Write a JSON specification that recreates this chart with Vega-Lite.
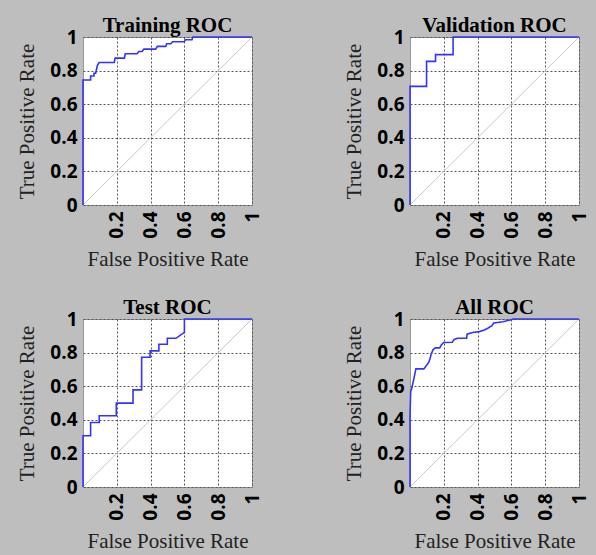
{
  "$schema": "https://vega.github.io/schema/vega-lite/v6.json",
  "background": "#bebebe",
  "padding": {"left": 16, "top": 14, "right": 14, "bottom": 14},
  "datasets": {
    "diag": [{"fpr": 0, "tpr": 0}, {"fpr": 1, "tpr": 1}],
    "roc": [
      {"set": "Training", "fpr": 0, "tpr": 0},
      {"set": "Training", "fpr": 0, "tpr": 0.744},
      {"set": "Training", "fpr": 0.045, "tpr": 0.744},
      {"set": "Training", "fpr": 0.045, "tpr": 0.768},
      {"set": "Training", "fpr": 0.065, "tpr": 0.768},
      {"set": "Training", "fpr": 0.065, "tpr": 0.784},
      {"set": "Training", "fpr": 0.075, "tpr": 0.784},
      {"set": "Training", "fpr": 0.085, "tpr": 0.83},
      {"set": "Training", "fpr": 0.095, "tpr": 0.848},
      {"set": "Training", "fpr": 0.185, "tpr": 0.848},
      {"set": "Training", "fpr": 0.19, "tpr": 0.874},
      {"set": "Training", "fpr": 0.245, "tpr": 0.874},
      {"set": "Training", "fpr": 0.25, "tpr": 0.9},
      {"set": "Training", "fpr": 0.32, "tpr": 0.9},
      {"set": "Training", "fpr": 0.33, "tpr": 0.914},
      {"set": "Training", "fpr": 0.35, "tpr": 0.914},
      {"set": "Training", "fpr": 0.36, "tpr": 0.928},
      {"set": "Training", "fpr": 0.43, "tpr": 0.928},
      {"set": "Training", "fpr": 0.44, "tpr": 0.944},
      {"set": "Training", "fpr": 0.49, "tpr": 0.944},
      {"set": "Training", "fpr": 0.495, "tpr": 0.96},
      {"set": "Training", "fpr": 0.52, "tpr": 0.96},
      {"set": "Training", "fpr": 0.53, "tpr": 0.972},
      {"set": "Training", "fpr": 0.6, "tpr": 0.972},
      {"set": "Training", "fpr": 0.605, "tpr": 0.984},
      {"set": "Training", "fpr": 0.645, "tpr": 0.984},
      {"set": "Training", "fpr": 0.65, "tpr": 1},
      {"set": "Training", "fpr": 1, "tpr": 1},
      {"set": "Validation", "fpr": 0, "tpr": 0},
      {"set": "Validation", "fpr": 0, "tpr": 0.706},
      {"set": "Validation", "fpr": 0.098, "tpr": 0.706},
      {"set": "Validation", "fpr": 0.098, "tpr": 0.855},
      {"set": "Validation", "fpr": 0.151, "tpr": 0.855},
      {"set": "Validation", "fpr": 0.151, "tpr": 0.895},
      {"set": "Validation", "fpr": 0.255, "tpr": 0.895},
      {"set": "Validation", "fpr": 0.255, "tpr": 1},
      {"set": "Validation", "fpr": 1, "tpr": 1},
      {"set": "Test", "fpr": 0, "tpr": 0},
      {"set": "Test", "fpr": 0, "tpr": 0.305},
      {"set": "Test", "fpr": 0.045, "tpr": 0.305},
      {"set": "Test", "fpr": 0.045, "tpr": 0.384},
      {"set": "Test", "fpr": 0.096, "tpr": 0.384},
      {"set": "Test", "fpr": 0.096, "tpr": 0.424},
      {"set": "Test", "fpr": 0.197, "tpr": 0.424},
      {"set": "Test", "fpr": 0.197, "tpr": 0.499},
      {"set": "Test", "fpr": 0.296, "tpr": 0.499},
      {"set": "Test", "fpr": 0.296, "tpr": 0.578},
      {"set": "Test", "fpr": 0.347, "tpr": 0.578},
      {"set": "Test", "fpr": 0.347, "tpr": 0.772},
      {"set": "Test", "fpr": 0.397, "tpr": 0.772},
      {"set": "Test", "fpr": 0.397, "tpr": 0.81},
      {"set": "Test", "fpr": 0.449, "tpr": 0.81},
      {"set": "Test", "fpr": 0.449, "tpr": 0.85},
      {"set": "Test", "fpr": 0.499, "tpr": 0.85},
      {"set": "Test", "fpr": 0.499, "tpr": 0.885},
      {"set": "Test", "fpr": 0.55, "tpr": 0.885},
      {"set": "Test", "fpr": 0.6, "tpr": 0.92},
      {"set": "Test", "fpr": 0.6, "tpr": 1},
      {"set": "Test", "fpr": 1, "tpr": 1},
      {"set": "All", "fpr": 0, "tpr": 0},
      {"set": "All", "fpr": 0, "tpr": 0.42},
      {"set": "All", "fpr": 0.004, "tpr": 0.57},
      {"set": "All", "fpr": 0.01, "tpr": 0.585},
      {"set": "All", "fpr": 0.02, "tpr": 0.63},
      {"set": "All", "fpr": 0.035, "tpr": 0.703},
      {"set": "All", "fpr": 0.082, "tpr": 0.703},
      {"set": "All", "fpr": 0.095, "tpr": 0.72},
      {"set": "All", "fpr": 0.11, "tpr": 0.74},
      {"set": "All", "fpr": 0.118, "tpr": 0.762},
      {"set": "All", "fpr": 0.125, "tpr": 0.79},
      {"set": "All", "fpr": 0.137, "tpr": 0.818},
      {"set": "All", "fpr": 0.15, "tpr": 0.828},
      {"set": "All", "fpr": 0.176, "tpr": 0.828},
      {"set": "All", "fpr": 0.185, "tpr": 0.845},
      {"set": "All", "fpr": 0.2, "tpr": 0.86},
      {"set": "All", "fpr": 0.25, "tpr": 0.862},
      {"set": "All", "fpr": 0.26, "tpr": 0.877},
      {"set": "All", "fpr": 0.28, "tpr": 0.885},
      {"set": "All", "fpr": 0.335, "tpr": 0.885},
      {"set": "All", "fpr": 0.338, "tpr": 0.91},
      {"set": "All", "fpr": 0.37, "tpr": 0.92},
      {"set": "All", "fpr": 0.41, "tpr": 0.925},
      {"set": "All", "fpr": 0.44, "tpr": 0.935},
      {"set": "All", "fpr": 0.46, "tpr": 0.945},
      {"set": "All", "fpr": 0.485, "tpr": 0.96},
      {"set": "All", "fpr": 0.495, "tpr": 0.976},
      {"set": "All", "fpr": 0.55, "tpr": 0.984},
      {"set": "All", "fpr": 0.6, "tpr": 0.996},
      {"set": "All", "fpr": 0.61, "tpr": 1},
      {"set": "All", "fpr": 1, "tpr": 1}
    ]
  },
  "bounds": "flush",
  "columns": 2,
  "spacing": {"row": 114, "column": 158},
  "concat": [
    {
      "title": "Training ROC",
      "width": 169, "height": 168,
      "encoding": {
        "x": {"field": "fpr", "type": "quantitative", "scale": {"domain": [0, 1], "nice": false}, "title": "False Positive Rate", "axis": {"values": [0.2, 0.4, 0.6, 0.8, 1], "labelOverlap": false}},
        "y": {"field": "tpr", "type": "quantitative", "scale": {"domain": [0, 1], "nice": false}, "title": "True Positive Rate", "axis": {"values": [0, 0.2, 0.4, 0.6, 0.8, 1], "labelOverlap": false}}
      },
      "layer": [
        {"data": {"name": "diag"}, "mark": {"type": "line", "color": "#c8c8c8", "strokeWidth": 1}},
        {"data": {"name": "roc"}, "transform": [{"filter": "datum.set === 'Training'"}],
         "mark": {"type": "line", "color": "#3333ff", "strokeWidth": 1.6},
         "encoding": {"order": {"value": null}}}
      ]
    },
    {
      "title": "Validation ROC",
      "width": 169, "height": 168,
      "encoding": {
        "x": {"field": "fpr", "type": "quantitative", "scale": {"domain": [0, 1], "nice": false}, "title": "False Positive Rate", "axis": {"values": [0.2, 0.4, 0.6, 0.8, 1], "labelOverlap": false}},
        "y": {"field": "tpr", "type": "quantitative", "scale": {"domain": [0, 1], "nice": false}, "title": "True Positive Rate", "axis": {"values": [0, 0.2, 0.4, 0.6, 0.8, 1], "labelOverlap": false}}
      },
      "layer": [
        {"data": {"name": "diag"}, "mark": {"type": "line", "color": "#c8c8c8", "strokeWidth": 1}},
        {"data": {"name": "roc"}, "transform": [{"filter": "datum.set === 'Validation'"}],
         "mark": {"type": "line", "color": "#3333ff", "strokeWidth": 1.6},
         "encoding": {"order": {"value": null}}}
      ]
    },
    {
      "title": "Test ROC",
      "width": 169, "height": 168,
      "encoding": {
        "x": {"field": "fpr", "type": "quantitative", "scale": {"domain": [0, 1], "nice": false}, "title": "False Positive Rate", "axis": {"values": [0.2, 0.4, 0.6, 0.8, 1], "labelOverlap": false}},
        "y": {"field": "tpr", "type": "quantitative", "scale": {"domain": [0, 1], "nice": false}, "title": "True Positive Rate", "axis": {"values": [0, 0.2, 0.4, 0.6, 0.8, 1], "labelOverlap": false}}
      },
      "layer": [
        {"data": {"name": "diag"}, "mark": {"type": "line", "color": "#c8c8c8", "strokeWidth": 1}},
        {"data": {"name": "roc"}, "transform": [{"filter": "datum.set === 'Test'"}],
         "mark": {"type": "line", "color": "#3333ff", "strokeWidth": 1.6},
         "encoding": {"order": {"value": null}}}
      ]
    },
    {
      "title": "All ROC",
      "width": 169, "height": 168,
      "encoding": {
        "x": {"field": "fpr", "type": "quantitative", "scale": {"domain": [0, 1], "nice": false}, "title": "False Positive Rate", "axis": {"values": [0.2, 0.4, 0.6, 0.8, 1], "labelOverlap": false}},
        "y": {"field": "tpr", "type": "quantitative", "scale": {"domain": [0, 1], "nice": false}, "title": "True Positive Rate", "axis": {"values": [0, 0.2, 0.4, 0.6, 0.8, 1], "labelOverlap": false}}
      },
      "layer": [
        {"data": {"name": "diag"}, "mark": {"type": "line", "color": "#c8c8c8", "strokeWidth": 1}},
        {"data": {"name": "roc"}, "transform": [{"filter": "datum.set === 'All'"}],
         "mark": {"type": "line", "color": "#3333ff", "strokeWidth": 1.6},
         "encoding": {"order": {"value": null}}}
      ]
    }
  ],
  "config": {
    "view": {"stroke": "#999999", "fill": "white"},
    "title": {"font": "Liberation Serif", "fontSize": 21, "fontWeight": "bold", "color": "black", "offset": -8, "frame": "group"},
    "axis": {
      "labelFont": "Open Sans", "labelFontSize": 19, "labelFontWeight": "bold", "labelColor": "black",
      "titleFont": "Liberation Serif", "titleFontSize": 21, "titleFontWeight": "normal", "titleColor": "#222222",
      "ticks": false, "domain": false, "grid": true, "gridColor": "#555555", "gridDash": [2, 2], "gridOpacity": 1,
      "labelPadding": 6, "format": "~g", "labelFlush": false, "labelOverlap": false
    },
    "axisX": {"labelAngle": 270, "titlePadding": 10},
    "axisY": {"titlePadding": 12}
  }
}
